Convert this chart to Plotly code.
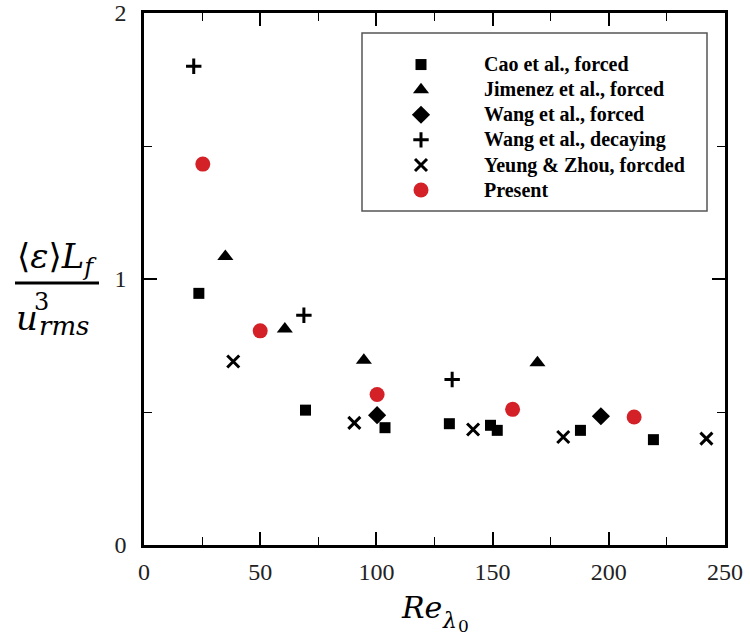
import plotly.graph_objects as go

# Dissipation coefficient versus initial Taylor Reynolds number
cao_x = [23.6, 69.5, 103.7, 131.4, 149.1, 152.0, 187.8, 219.2]
cao_y = [0.946, 0.507, 0.441, 0.456, 0.450, 0.431, 0.431, 0.396]

jimenez_x = [35.0, 60.6, 94.6, 169.3]
jimenez_y = [1.085, 0.812, 0.695, 0.685]

wang_forced_x = [100.3, 196.6]
wang_forced_y = [0.488, 0.484]

wang_decay_x = [21.4, 68.8, 132.6]
wang_decay_y = [1.80, 0.864, 0.622]

yeung_x = [38.4, 90.5, 141.6, 180.4, 242.0]
yeung_y = [0.69, 0.459, 0.434, 0.406, 0.40]

present_x = [25.3, 50.0, 100.3, 158.6, 210.9]
present_y = [1.432, 0.805, 0.566, 0.510, 0.481]

x_ticks = [0, 50, 100, 150, 200, 250]
y_ticks = [0, 1, 2]

W, H = 750, 637
L, R, T, B = 144, 25, 13, 92
PW, PH = W - L - R, H - T - B


def px(xp):
    return (xp - L) / PW


def py(yp):
    return (H - B - yp) / PH


fig = go.Figure()

series = [
    ("Cao et al., forced", cao_x, cao_y, dict(symbol="square", size=11, color="black")),
    ("Jimenez et al., forced", jimenez_x, jimenez_y, dict(symbol="triangle-up", size=14, color="black")),
    ("Wang et al., forced", wang_forced_x, wang_forced_y, dict(symbol="diamond", size=14, color="black")),
    ("Wang et al., decaying", wang_decay_x, wang_decay_y,
     dict(symbol="cross-thin", size=11, color="black", line=dict(width=3, color="black"))),
    ("Yeung & Zhou, forcded", yeung_x, yeung_y,
     dict(symbol="x-thin", size=12, color="black", line=dict(width=3, color="black"))),
    ("Present", present_x, present_y, dict(symbol="circle", size=15, color="#D42027")),
]
for name, xs, ys, mk in series:
    fig.add_trace(go.Scatter(
        x=xs, y=ys, mode="markers", marker=mk,
        name='<span style="font-size:20px">' + name.replace("&", "&amp;") + "</span>",
    ))

serif = "Liberation Serif, Times New Roman, serif"
math = "DejaVu Serif, serif"

axis_common = dict(
    showline=True, linecolor="black", linewidth=2.5, mirror="ticks",
    ticks="inside", tickcolor="black", tickwidth=2, ticklen=13,
    showgrid=False, zeroline=False, automargin=False,
    tickfont=dict(family=serif, size=24, color="#222"),
)

fig.update_xaxes(range=[0, 250], tickvals=x_ticks, ticklabelstandoff=3,
                 minor=dict(dtick=25, ticks="inside", ticklen=8, tickwidth=1, tickcolor="black"),
                 **axis_common)
fig.update_yaxes(range=[0, 2], tickvals=y_ticks, ticklabelstandoff=10,
                 minor=dict(dtick=0.5, ticks="inside", ticklen=8, tickwidth=1, tickcolor="black"),
                 **axis_common)

# legend frame
fig.add_shape(type="rect", xref="paper", yref="paper",
              x0=px(362), x1=px(707), y0=py(211), y1=py(33),
              line=dict(color="#555", width=1.5), fillcolor="rgba(0,0,0,0)")

# y-axis label as a stacked fraction
fig.add_shape(type="line", xref="paper", yref="paper",
              x0=px(15), x1=px(99), y0=py(283), y1=py(283),
              line=dict(color="black", width=3))

annots = [
    dict(x=px(57), y=py(258), text="⟨<i>ε</i>⟩<i>L</i><sub><i>f</i></sub>", size=34),
    dict(x=px(27), y=py(318), text="<i>u</i>", size=34),
    dict(x=px(41), y=py(302), text="3", size=24),
    dict(x=px(64), y=py(326), text="<i>rms</i>", size=26),
    dict(x=px(421), y=py(607), text="<i>Re</i>", size=30),
    dict(x=px(449), y=py(620), text="<i>λ</i>", size=22),
    dict(x=px(464), y=py(626), text="0", size=17),
]
for a in annots:
    fig.add_annotation(x=a["x"], y=a["y"], xref="paper", yref="paper",
                       text=a["text"], showarrow=False,
                       xanchor="center", yanchor="middle",
                       font=dict(family=math, size=a["size"], color="black"))

fig.update_layout(
    width=W, height=H,
    margin=dict(l=L, r=R, t=T, b=B),
    paper_bgcolor="white", plot_bgcolor="white",
    showlegend=True,
    legend=dict(x=px(358), y=py(47), xanchor="left", yanchor="top",
                bgcolor="rgba(0,0,0,0)", borderwidth=0,
                itemwidth=116,
                font=dict(family=serif, size=17, color="black", weight="bold")),
)

fig.write_html("out.html")
